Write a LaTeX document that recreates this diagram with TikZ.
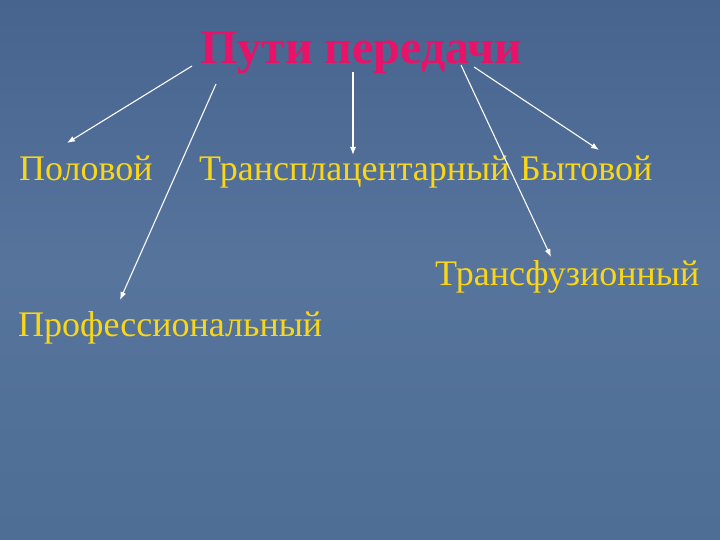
\documentclass[tikz,border=0pt]{standalone}
\usepackage{fontspec}
\setmainfont{Liberation Serif}
\usepackage{tikz}
\usetikzlibrary{calc,arrows.meta}

\definecolor{bgtop}{RGB}{70,100,142}
\definecolor{bgmid}{RGB}{86,116,156}
\definecolor{bgbot}{RGB}{78,110,150}
\definecolor{ttl}{RGB}{232,18,104}
\definecolor{gold}{RGB}{250,214,24}

\tikzset{
  lbl/.style={anchor=base west, inner sep=0pt, text=gold, font=\fontsize{36}{40}\selectfont},
  ttlbl/.style={anchor=base west, inner sep=0pt, text=ttl, font=\fontsize{48}{54}\selectfont\bfseries},
  arr/.style={-{Latex[length=8pt,width=6pt]}, white, line width=1.1pt}
}

\begin{document}
\begin{tikzpicture}[x=1pt,y=-1pt]
%\draw[help lines] (0,0) grid (720,540);
\shade[top color=bgtop, bottom color=bgbot, middle color=bgmid] (0,0) rectangle (720,540);
\useasboundingbox (0,0) rectangle (720,540);

\node[ttlbl] at (200,64) (title) {Пути передачи};

\node[lbl] at (19,181) (polovoy) {Половой};
\node[lbl] at (199,181) (transpl) {Трансплацентарный};
\node[lbl] at (520,181) (bytovoy) {Бытовой};
\node[lbl] at (435,285) (transf) {Трансфузионный};
\node[lbl] at (18,336) (prof) {Профессиональный};

\coordinate (e1) at (67,143);
\coordinate (e2) at (120,300);
\coordinate (e3) at (353,155);
\coordinate (e4) at (551,257);
\coordinate (e5) at (599,150);

\draw[arr] ([shift={(-8,2)}]title.base west) -- (e1);
\draw[arr] ([shift={(16,20)}]title.base west) -- (e2);
\draw[arr] ([shift={(153,8)}]title.base west) -- (e3);
\draw[arr] ([shift={(261,1)}]title.base west) -- (e4);
\draw[arr] ([shift={(274,3)}]title.base west) -- (e5);
\end{tikzpicture}
\end{document}
